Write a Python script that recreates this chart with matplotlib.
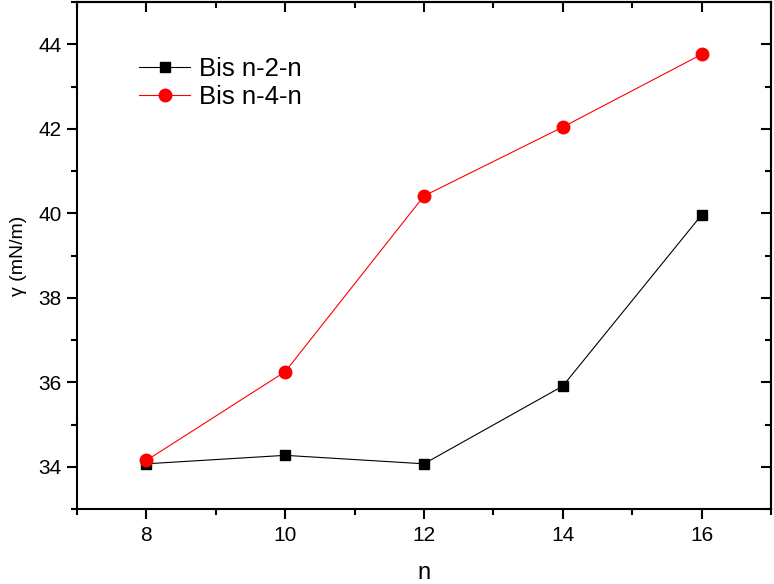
import matplotlib
matplotlib.use("Agg")
import matplotlib.pyplot as plt
from matplotlib.ticker import MultipleLocator

plt.rcParams['font.family'] = ['Liberation Sans', 'DejaVu Sans']

# chain length n
n = [8, 10, 12, 14, 16]
# surface tension values (mN/m)
bis_2 = [34.07, 34.27, 34.07, 35.91, 39.96]
bis_4 = [34.15, 36.25, 40.41, 42.04, 43.76]

fig = plt.figure(figsize=(7.74, 5.84), dpi=100)
ax = fig.add_axes([77 / 774, 1 - 509 / 584, (771 - 77) / 774, (509 - 2) / 584])

ax.plot(n, bis_2, color='black', lw=0.8, marker='s', ms=7.5, label='Bis n-2-n')
ax.plot(n, bis_4, color='red', lw=0.8, marker='o', ms=9, label='Bis n-4-n')

ax.set_xlim(7, 17)
ax.set_ylim(33, 45)
ax.xaxis.set_major_locator(MultipleLocator(2))
ax.xaxis.set_minor_locator(MultipleLocator(1))
ax.yaxis.set_major_locator(MultipleLocator(2))
ax.yaxis.set_minor_locator(MultipleLocator(1))

for sp in ax.spines.values():
    sp.set_linewidth(1.5)

ax.tick_params(which='both', direction='out', width=1.5, labelsize=15)
ax.tick_params(which='major', length=7.5)
ax.tick_params(which='minor', length=4)
ax.tick_params(axis='x', which='major', pad=5)

# mirrored ticks pointing inward on top/right
top = ax.secondary_xaxis('top')
top.xaxis.set_major_locator(MultipleLocator(2))
top.xaxis.set_minor_locator(MultipleLocator(1))
top.tick_params(which='both', direction='in', width=1.5, labeltop=False)
top.tick_params(which='major', length=7.5)
top.tick_params(which='minor', length=4)
top.spines['top'].set_linewidth(1.5)
right = ax.secondary_yaxis('right')
right.yaxis.set_major_locator(MultipleLocator(2))
right.yaxis.set_minor_locator(MultipleLocator(1))
right.tick_params(which='both', direction='in', width=1.5, labelright=False)
right.tick_params(which='major', length=7.5)
right.tick_params(which='minor', length=4)
right.spines['right'].set_linewidth(1.5)

ax.set_xlabel('n', fontsize=17, labelpad=12)
ax.set_ylabel('γ (mN/m)', fontsize=14, labelpad=8)

ax.legend(loc='upper left', bbox_to_anchor=(0.056, 0.937), frameon=False,
          fontsize=18.5, handlelength=2.0, handletextpad=0.35, labelspacing=0.15)

fig.savefig('out.png', dpi=100)
